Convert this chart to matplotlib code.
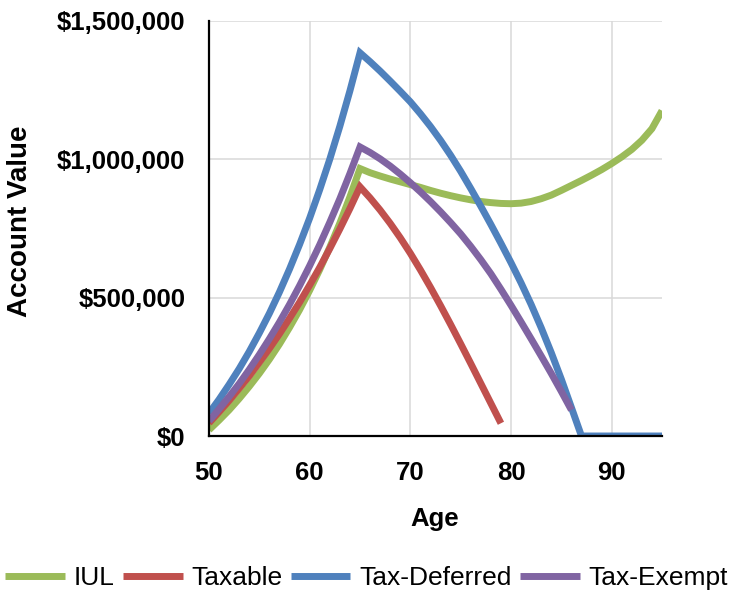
import numpy as np
import matplotlib
matplotlib.use('Agg')
import matplotlib.pyplot as plt

plt.rcParams['font.family'] = ['Liberation Sans', 'DejaVu Sans']

# ages on the x axis
ages = list(range(50, 96))

# account values (dollars), None = no value
iul = [22000, 57000, 94000, 135000, 179000, 226000, 277000, 332000, 392000, 456000,
       526000, 601000, 682000, 769000, 864000, 966000, 951000, 939000, 928000, 918000,
       908000, 898000, 887000, 877000, 868000, 860000, 853000, 847000, 843000, 840000,
       839000, 841000, 847000, 857000, 870000, 887000, 905000, 923000, 942000, 962000,
       984000, 1008000, 1035000, 1068000, 1110000, 1175000]
taxable = [47000, 87000, 128000, 172000, 217000, 266000, 316000, 369000, 425000, 483000,
           545000, 609000, 677000, 748000, 822000, 900000, 860000, 816000, 768000, 716000,
           660000, 600000, 537000, 471000, 403000, 333000, 262000, 190000, 118000, 46000,
           None, None, None, None, None, None, None, None, None, None,
           None, None, None, None, None, None]
tax_deferred = [82000, 132000, 186000, 243000, 305000, 372000, 443000, 520000, 603000, 692000,
                787000, 890000, 1000000, 1119000, 1247000, 1384000, 1352000, 1318000, 1282000, 1245000,
                1207000, 1164000, 1118000, 1068000, 1014000, 956000, 894000, 830000, 764000, 696000,
                626000, 553000, 475000, 391000, 301000, 205000, 103000, 0, 0, 0,
                0, 0, 0, 0, 0, 0]
tax_exempt = [54000, 97000, 142000, 189000, 240000, 294000, 351000, 411000, 475000, 543000,
              615000, 691000, 772000, 857000, 948000, 1044000, 1024000, 1001000, 975000, 946000,
              915000, 882000, 847000, 810000, 771000, 730000, 685000, 637000, 586000, 530000,
              472000, 412000, 351000, 289000, 226000, 161000, 94000, None, None, None,
              None, None, None, None, None, None]

series_names = ['IUL', 'Taxable', 'Tax-Deferred', 'Tax-Exempt']
series_colors = ['#9BBB59', '#C0504D', '#4F81BD', '#8064A2']

x_ticks = [50, 60, 70, 80, 90]
y_ticks = [0, 500000, 1000000, 1500000]
y_tick_labels = ['$0', '$500,000', '$1,000,000', '$1,500,000']

fig = plt.figure(figsize=(7.33, 5.92), dpi=100)
ax = fig.add_axes([209 / 733, 1 - 436 / 592, 453 / 733, 415.3 / 592])

for vals, name, col in zip([iul, taxable, tax_deferred, tax_exempt], series_names, series_colors):
    y = np.array([np.nan if v is None else v for v in vals], dtype=float)
    ax.plot(ages, y, color=col, lw=5, label=name,
            solid_joinstyle='miter', solid_capstyle='butt')

ax.set_xlim(50, 95)
ax.set_ylim(0, 1500000)
ax.set_xticks(x_ticks)
ax.set_yticks(y_ticks)
ax.set_yticklabels(y_tick_labels)

ax.grid(True, color='#d9d9d9', lw=1.1)
ax.set_axisbelow(True)
for s in ['top', 'right']:
    ax.spines[s].set_visible(False)
for s in ['left', 'bottom']:
    ax.spines[s].set_linewidth(1.6)
    ax.spines[s].set_zorder(5)

ax.tick_params(axis='both', length=0, labelsize=18.5)
ax.tick_params(axis='y', pad=17)
ax.tick_params(axis='x', pad=18)
for lab in ax.get_xticklabels() + ax.get_yticklabels():
    lab.set_fontweight('bold')

fig.text(20 / 733, 1 - 221 / 592, 'Account Value', rotation=90, ha='center', va='center',
         fontsize=20, fontweight='bold')
fig.text(435 / 733, 1 - 519 / 592, 'Age', ha='center', va='center',
         fontsize=18.5, fontweight='bold')

fig.legend(loc='center', bbox_to_anchor=(0.5, 1 - 578 / 592), ncol=4, frameon=False,
           fontsize=19, handlelength=2.27, handletextpad=0.34, columnspacing=0.3,
           borderaxespad=0, borderpad=0)

fig.savefig('out.png', dpi=100)
